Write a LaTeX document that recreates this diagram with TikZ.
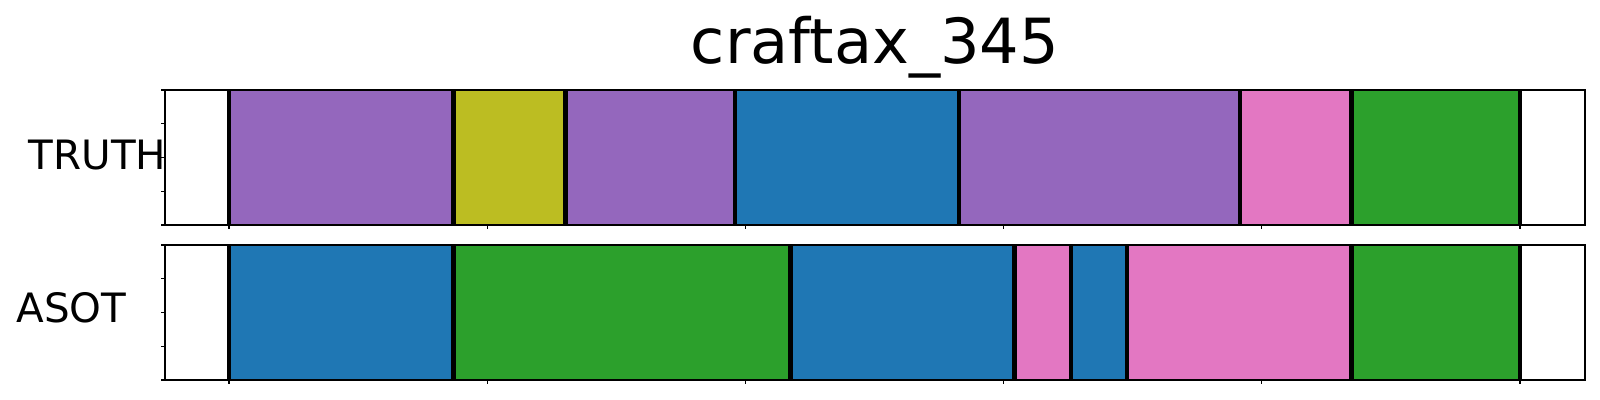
\documentclass[tikz,border=0pt]{standalone}
\usepackage{fontspec}
\setmainfont{DejaVu Sans}
\usetikzlibrary{positioning}
\definecolor{segblue}{HTML}{1F77B4}
\definecolor{seggreen}{HTML}{2CA02C}
\definecolor{segpurple}{HTML}{9467BD}
\definecolor{segpink}{HTML}{E377C2}
\definecolor{segolive}{HTML}{BCBD22}

\begin{document}
\begin{tikzpicture}[x=0.01cm, y=-0.01cm,
				frame/.style = {draw, line width=0.45pt},
				bound/.style = {draw=black, line width=1.3pt},
				tickmark/.style = {line width=0.35pt},
				rowlabel/.style = {font=\fontsize{11.5}{13}\selectfont, inner sep=0pt, anchor=east},
				heading/.style = {font=\fontsize{17.7}{20}\selectfont, inner sep=0pt, anchor=base},
			]
			\useasboundingbox (0,0) rectangle (1600,400);

			\node[heading](title) at (875,63){craftax\_345};

			%TRUTH row
			\foreach \a/\b/\c in {229/453.7/segpurple, 453.7/565.7/segolive, 565.7/735/segpurple, 735/959/segblue, 959/1240/segpurple, 1240/1351.7/segpink, 1351.7/1520/seggreen}
				\fill[\c](\a,90) rectangle (\b,225);
			\foreach \x in {229, 453.7, 565.7, 735, 959, 1240, 1351.7, 1520}
				\draw[bound](\x,90)--(\x,225);

			%ASOT row
			\foreach \a/\b/\c in {229/453.7/segblue, 453.7/790.7/seggreen, 790.7/1014.7/segblue, 1014.7/1071/segpink, 1071/1127/segblue, 1127/1351.7/segpink, 1351.7/1520/seggreen}
				\fill[\c](\a,245) rectangle (\b,380);
			\foreach \x in {229, 453.7, 790.7, 1014.7, 1071, 1127, 1351.7, 1520}
				\draw[bound](\x,245)--(\x,380);

			%frames and ticks
			\foreach \t in {90, 245}{
				\draw[frame](165,\t) rectangle (1585,\t+135);
				\foreach \y in {0, 33.75, 67.5, 101.25, 135}
					\draw[tickmark](161,\t+\y)--(165,\t+\y);
				\foreach \x in {229, 487.2, 745.4, 1003.6, 1261.8, 1520}
					\draw[tickmark](\x,\t+135)--(\x,\t+139);
			}

			\node[rowlabel](truth) at (167,155){TRUTH};
			\node[rowlabel](asot) at (127,308){ASOT};

		\end{tikzpicture}
\end{document}
